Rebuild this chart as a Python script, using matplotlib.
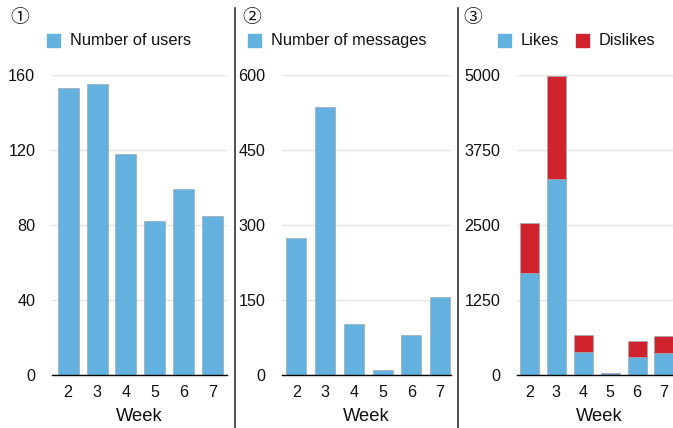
import matplotlib
matplotlib.use("Agg")
import matplotlib.pyplot as plt
from matplotlib.lines import Line2D
from matplotlib.patches import Rectangle

plt.rcParams['font.family'] = ['Liberation Sans', 'Noto Sans CJK JP', 'DejaVu Sans']

weeks = [2, 3, 4, 5, 6, 7]
users = [153, 155, 118, 82, 99, 85]
messages = [275, 536, 103, 10, 81, 156]
likes = [1706, 3272, 389, 28, 306, 367]
dislikes = [833, 1717, 283, 0, 266, 283]

BLUE = '#63b1de'
RED = '#d0232e'
EDGE = '#9eaab5'

W, H = 673, 428
fig = plt.figure(figsize=(W / 100, H / 100), dpi=100)

def px_axes(left, right, top, bottom):
    return fig.add_axes([left / W, (H - bottom) / H, (right - left) / W, (bottom - top) / H])

def style(ax, ymax, yticks, xlim, pad):
    ax.set_ylim(0, ymax)
    ax.set_xlim(*xlim)
    ax.set_yticks(yticks)
    ax.set_yticklabels([str(t) for t in yticks])
    ax.set_xticks(weeks)
    ax.set_xticklabels([str(w) for w in weeks])
    for s in ['top', 'right', 'left']:
        ax.spines[s].set_visible(False)
    ax.spines['bottom'].set_color('black')
    ax.spines['bottom'].set_linewidth(1.0)
    ax.tick_params(axis='both', length=0, labelsize=11.6, colors='#111111')
    ax.tick_params(axis='y', pad=pad)
    ax.tick_params(axis='x', pad=7)
    ax.yaxis.grid(True, color='#e4e4e4', linewidth=1.0)
    ax.set_axisbelow(True)
    ax.set_xlabel('Week', fontsize=13.2, labelpad=6, color='#111111')
    ax.patch.set_alpha(0)

# Panel 1
ax1 = px_axes(52, 227, 75, 375)
ax1.bar(weeks, users, width=0.73, color=BLUE, edgecolor=EDGE, linewidth=0.5)
style(ax1, 160, [0, 40, 80, 120, 160], (1.44, 7.5), 12)

# Panel 2
ax2 = px_axes(282, 451, 75, 375)
ax2.bar(weeks, messages, width=0.7, color=BLUE, edgecolor=EDGE, linewidth=0.5)
style(ax2, 600, [0, 150, 300, 450, 600], (1.5, 7.38), 12)

# Panel 3
ax3 = px_axes(517, 682, 75, 375)
ax3.bar(weeks, likes, width=0.71, color=BLUE, edgecolor=EDGE, linewidth=0.5)
ax3.bar(weeks, dislikes, width=0.71, bottom=likes, color=RED, edgecolor=EDGE, linewidth=0.5)
style(ax3, 5000, [0, 1250, 2500, 3750, 5000], (1.535, 7.67), 12)

# separators
for x in [235, 458]:
    fig.add_artist(Line2D([x / W, x / W], [0, (H - 8) / H], color='#333333', linewidth=1.2))

# circled numbers
for x, s in [(10, '①'), (242, '②'), (463, '③')]:
    fig.text(x / W, (H - 18) / H, s, fontsize=13.5, va='center', ha='left', color='#111111')

# legends
def legend_item(x, label, color):
    fig.add_artist(Rectangle((x / W, (H - 47) / H), 13 / W, 13 / H, color=color, transform=fig.transFigure))
    fig.text((x + 23) / W, (H - 40.5) / H, label, fontsize=11.8, va='center', ha='left', color='#111111')

legend_item(47, 'Number of users', BLUE)
legend_item(248, 'Number of messages', BLUE)
legend_item(498, 'Likes', BLUE)
legend_item(576, 'Dislikes', RED)

fig.savefig('out.png', dpi=100)
